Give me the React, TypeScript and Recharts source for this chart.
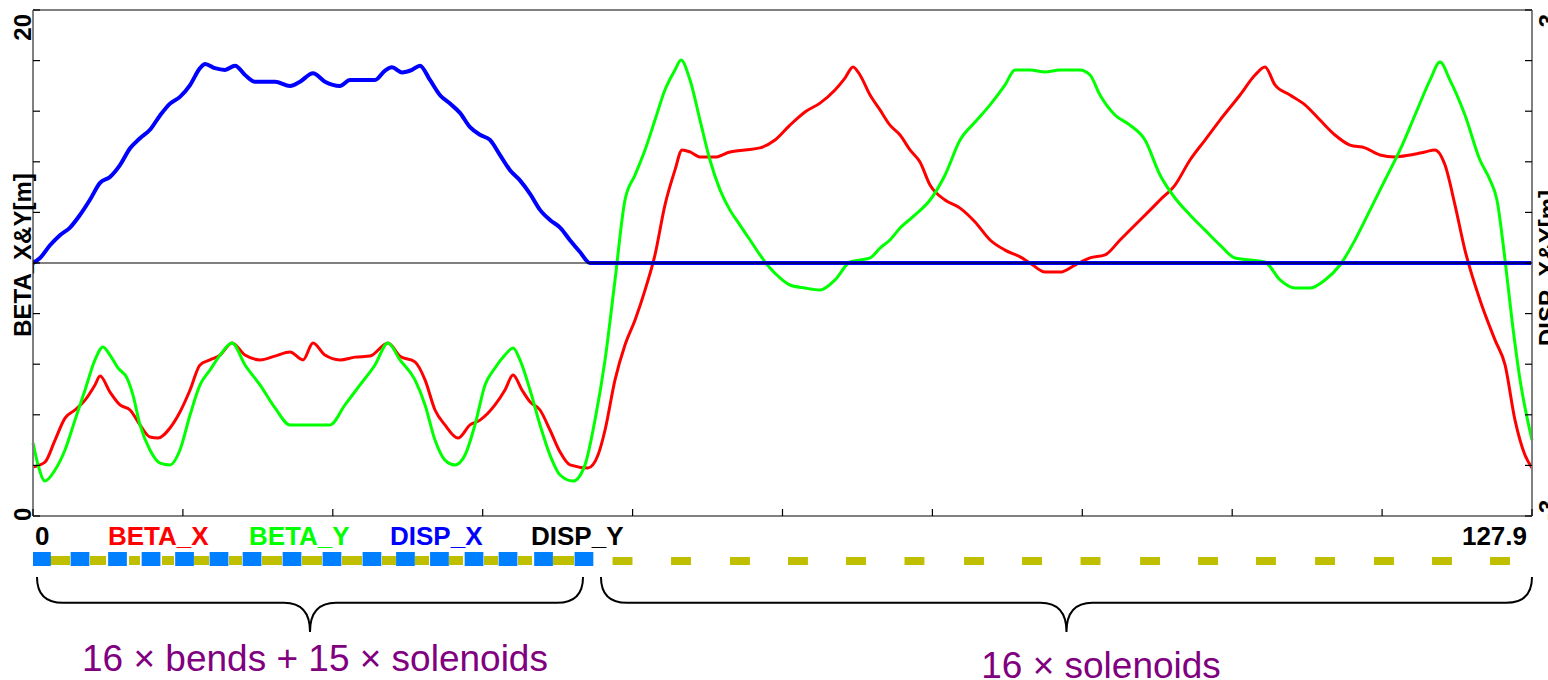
import {
  ComposedChart,
  Line,
  XAxis,
  YAxis,
  ReferenceLine,
  ReferenceArea,
  ReferenceDot,
} from "recharts";

// s positions along the ring [m]
const S_MAX = 127.9;
const S_TICKS = [0, 12.79, 25.58, 38.37, 51.16, 63.95, 76.74, 89.53, 102.32, 115.11, 127.9];
const BETA_TICKS = [0, 2, 4, 6, 8, 10, 12, 14, 16, 18, 20];
const DISP_TICKS = [-3, -2.4, -1.8, -1.2, -0.6, 0, 0.6, 1.2, 1.8, 2.4, 3];

const BETA_X: [number, number][] = [
  [0, 1.94], [1.02, 2.13], [1.88, 3.0], [2.73, 3.87], [3.58, 4.19], [4.44, 4.58], [5.29, 5.18],
  [5.72, 5.53], [6.57, 4.9], [7.42, 4.39], [8.28, 4.19], [9.13, 3.6], [9.98, 3.12], [10.67, 3.08],
  [11.69, 3.48], [12.54, 4.11], [13.4, 4.98], [14.25, 5.97], [15.1, 6.17], [15.96, 6.36],
  [16.98, 6.84], [18.09, 6.36], [19.37, 6.17], [20.65, 6.32], [21.93, 6.48], [23.04, 6.17],
  [23.89, 6.84], [24.91, 6.36], [26.19, 6.17], [27.47, 6.28], [28.75, 6.32], [30.29, 6.84],
  [31.31, 6.32], [32.59, 6.09], [33.45, 5.38], [34.3, 4.19], [35.15, 3.6], [36.26, 3.08],
  [37.29, 3.6], [38.14, 3.79], [39.42, 4.39], [40.27, 4.98], [40.96, 5.57], [41.72, 4.98],
  [42.41, 4.51], [43.26, 4.19], [44.11, 3.4], [44.97, 2.53], [45.82, 2.02], [47.35, 1.9],
  [48.21, 2.41], [48.81, 3.4], [49.66, 5.38], [50.51, 6.76], [51.37, 7.75], [52.22, 8.93],
  [53.07, 10.32], [53.92, 12.29], [54.78, 13.68], [55.38, 14.47], [56.06, 14.39], [56.91, 14.19],
  [58.19, 14.19], [59.47, 14.39], [60.75, 14.47], [62.03, 14.55], [63.31, 14.86], [64.59, 15.45],
  [65.87, 15.97], [67.15, 16.32], [68.43, 16.84], [69.28, 17.31], [69.97, 17.75], [70.56, 17.43],
  [71.42, 16.64], [72.27, 16.05], [73.12, 15.45], [73.98, 15.06], [74.83, 14.47], [75.68, 13.99],
  [76.54, 13.08], [77.82, 12.49], [79.1, 12.17], [80.38, 11.62], [81.66, 10.91], [82.94, 10.51],
  [84.22, 10.24], [85.07, 10.0], [86.35, 9.64], [87.63, 9.64], [88.91, 9.92], [90.19, 10.2],
  [91.47, 10.32], [92.75, 10.91], [94.03, 11.5], [95.31, 12.09], [96.16, 12.49], [97.44, 13.08],
  [98.72, 14.07], [100.0, 14.86], [101.28, 15.65], [102.99, 16.64], [104.27, 17.43],
  [105.12, 17.75], [105.97, 17.04], [107.25, 16.64], [108.53, 16.25], [109.81, 15.65],
  [111.09, 15.06], [112.37, 14.66], [113.65, 14.55], [114.93, 14.27], [116.21, 14.19],
  [117.49, 14.27], [118.77, 14.39], [119.62, 14.47], [120.48, 13.87], [121.33, 12.29],
  [122.18, 10.51], [123.46, 8.54], [124.74, 6.96], [125.6, 5.97], [126.45, 3.79], [127.3, 2.41],
  [127.9, 1.9],
];

const BETA_Y: [number, number][] = [
  [0, 2.89], [0.43, 2.02], [1.02, 1.38], [1.88, 1.82], [2.73, 2.61], [3.58, 3.79], [4.44, 4.98],
  [5.29, 6.17], [5.97, 6.68], [6.57, 6.36], [7.25, 5.85], [8.02, 5.45], [8.53, 4.78], [9.13, 3.6],
  [9.98, 2.61], [10.84, 2.09], [11.69, 2.02], [12.54, 2.61], [13.4, 3.99], [14.25, 5.18],
  [15.1, 5.77], [15.96, 6.36], [16.98, 6.84], [18.09, 5.97], [19.37, 5.18], [20.65, 4.27],
  [21.93, 3.6], [23.63, 3.6], [25.34, 3.6], [26.62, 4.39], [27.9, 5.18], [29.18, 5.97],
  [30.29, 6.84], [31.31, 6.17], [32.59, 5.38], [33.45, 4.39], [34.3, 3.0], [35.15, 2.21],
  [36.01, 2.02], [36.86, 2.41], [37.71, 3.6], [38.57, 5.18], [39.42, 5.85], [40.27, 6.36],
  [40.96, 6.64], [41.55, 6.17], [42.41, 4.98], [43.26, 3.6], [44.11, 2.41], [44.97, 1.62],
  [46.08, 1.38], [47.1, 2.02], [47.95, 3.79], [48.81, 6.17], [49.66, 9.33], [50.51, 12.49],
  [51.37, 13.48], [52.22, 14.47], [53.07, 15.65], [53.92, 16.84], [54.78, 17.63], [55.29, 18.02],
  [56.06, 17.23], [56.91, 15.65], [57.76, 14.07], [58.62, 12.89], [59.47, 12.09], [60.32, 11.5],
  [61.18, 10.91], [62.03, 10.32], [62.88, 9.8], [63.74, 9.41], [64.59, 9.13], [65.87, 9.01],
  [67.15, 8.93], [68.43, 9.33], [69.71, 10.04], [70.56, 10.12], [71.42, 10.2], [72.27, 10.59],
  [73.12, 10.91], [73.98, 11.38], [75.26, 11.9], [76.54, 12.49], [77.82, 13.48], [79.1, 14.86],
  [80.38, 15.57], [81.66, 16.25], [82.94, 17.04], [83.79, 17.63], [85.07, 17.63], [86.35, 17.55],
  [87.63, 17.63], [89.33, 17.63], [90.19, 17.43], [91.04, 16.64], [92.32, 15.85], [93.6, 15.45],
  [94.88, 14.86], [96.16, 13.48], [97.44, 12.57], [98.72, 11.9], [100.0, 11.3], [101.28, 10.71],
  [102.56, 10.2], [103.84, 10.12], [105.12, 10.04], [106.4, 9.33], [107.68, 9.01], [108.96, 9.01],
  [110.24, 9.33], [111.52, 9.92], [112.8, 10.91], [114.08, 12.09], [115.36, 13.28],
  [116.64, 14.47], [117.92, 15.85], [119.2, 17.23], [120.05, 17.94], [120.9, 17.23],
  [122.18, 15.85], [123.46, 14.07], [124.32, 13.28], [124.91, 12.49], [125.6, 10.12],
  [126.19, 7.75], [126.88, 5.38], [127.9, 3.0],
];

const DISP_X: [number, number][] = [
  [0, 0], [0.6, 0.06], [1.45, 0.21], [2.3, 0.33], [3.16, 0.42], [4.01, 0.57], [4.86, 0.75],
  [5.72, 0.95], [6.57, 1.02], [7.42, 1.16], [8.28, 1.36], [9.13, 1.48], [9.98, 1.58], [10.84, 1.75],
  [11.69, 1.89], [12.54, 1.97], [13.4, 2.11], [14.25, 2.31], [14.68, 2.36], [15.53, 2.31],
  [16.38, 2.29], [17.24, 2.34], [18.09, 2.23], [18.94, 2.15], [19.8, 2.15], [20.65, 2.15],
  [21.93, 2.1], [22.78, 2.15], [23.89, 2.25], [24.91, 2.15], [26.19, 2.1], [27.05, 2.17],
  [28.33, 2.17], [29.18, 2.17], [30.03, 2.28], [30.63, 2.32], [31.48, 2.26], [32.34, 2.29],
  [33.02, 2.34], [33.87, 2.17], [34.73, 1.99], [35.58, 1.89], [36.43, 1.78], [37.29, 1.61],
  [38.14, 1.52], [38.99, 1.46], [39.85, 1.28], [40.7, 1.1], [41.55, 0.98], [42.41, 0.82],
  [43.26, 0.63], [44.11, 0.51], [44.97, 0.42], [45.82, 0.27], [46.67, 0.13], [47.53, 0],
  [127.9, 0],
];

const DISP_Y: [number, number][] = [
  [0, 0], [127.9, 0],
];

const SERIES_NAMES = ["BETA_X", "BETA_Y", "DISP_X", "DISP_Y"];
const SERIES_COLORS = ["#ff0000", "#00ff00", "#0000ff", "#000000"];

// lattice elements (s of centre / extents, m)
const BEND_S = [0.72, 4.01, 7.21, 10.07, 12.93, 15.87, 18.69, 22.1, 25.51, 28.92, 31.78, 34.68, 37.63, 40.53, 43.56, 47.01];
const BEND_LEN = 1.6;
const ARC_SOLENOIDS: [number, number][] = [
  [1.45, 3.16], [4.86, 6.23], [8.19, 9.13], [11.01, 12.03], [13.74, 15.02], [16.72, 17.83],
  [19.54, 21.25], [22.95, 24.66], [26.36, 28.07], [29.78, 30.97], [32.59, 33.79], [35.49, 36.69],
  [38.48, 39.68], [41.38, 42.58], [44.37, 46.16],
];
const STRAIGHT_SOL_S = [50.3, 55.29, 60.32, 65.27, 70.22, 75.21, 80.29, 85.24, 90.23, 95.31, 100.26, 105.2, 110.24, 115.27, 120.22, 125.17];
const STRAIGHT_SOL_LEN = 1.7;

const BRACES: [number, number][] = [[0.34, 46.93], [48.46, 127.9]];
const BRACE_TEXTS: { s: number; text: string }[] = [
  { s: 24.06, text: "16 \u00d7 bends + 15 \u00d7 solenoids" },
  { s: 91.13, text: "16 \u00d7 solenoids" },
];

const toPoints = (pts: [number, number][]) => pts.map(([s, v]) => ({ s, v }));

const FRAME = "#808080";
const AXIS_FONT = "'Liberation Sans Narrow', 'Liberation Sans', Arial, sans-serif";
const BEND_COLOR = "#0080ff";
const SOL_COLOR = "#bfbf00";

function RotText({ x, y, anchor, children, size = 24 }: any) {
  return (
    <text
      x={x}
      y={y}
      transform={`rotate(-90 ${x} ${y})`}
      textAnchor={anchor}
      fontFamily={AXIS_FONT}
      fontWeight="bold"
      fontSize={size}
      fill="#000"
    >
      {children}
    </text>
  );
}

function BetaTick({ x, y, payload }: any) {
  const v = payload.value;
  return (
    <g>
      <line x1={x} y1={y} x2={x + 7} y2={y} stroke="#000" strokeWidth={1.2} />
      {v === 20 && <RotText x={x - 2} y={y + 4} anchor="end">20</RotText>}
      {v === 0 && <RotText x={x - 2} y={y + 5} anchor="start">0</RotText>}
    </g>
  );
}

function DispTick({ x, y, payload }: any) {
  const v = payload.value;
  return (
    <g>
      <line x1={x - 7} y1={y} x2={x} y2={y} stroke="#000" strokeWidth={1.2} />
      {v === 3 && <RotText x={x + 24} y={y + 4} anchor="end">3</RotText>}
      {v === -3 && <RotText x={x + 24} y={y + 5} anchor="start">-3</RotText>}
    </g>
  );
}

function STick({ x, y, payload }: any) {
  const v = payload.value;
  return (
    <g>
      <line x1={x} y1={y} x2={x} y2={y - 7} stroke="#000" strokeWidth={1.2} />
      {v === 0 && (
        <text x={x + 2} y={y + 29} fontFamily={AXIS_FONT} fontWeight="bold" fontSize={26}>0</text>
      )}
      {v === S_MAX && (
        <text x={x - 5} y={y + 29} textAnchor="end" fontFamily={AXIS_FONT} fontWeight="bold" fontSize={26}>
          {v}
        </text>
      )}
    </g>
  );
}

// series names are printed in the bottom label row, as in the original plot
function SeriesNames({ viewBox }: any) {
  return (
    <g>
      {SERIES_NAMES.map((name, i) => (
        <text
          key={name}
          x={viewBox.x + 75 + i * 141}
          y={viewBox.y + 29}
          fill={SERIES_COLORS[i]}
          fontFamily={AXIS_FONT}
          fontWeight="bold"
          fontSize={26}
        >
          {name}
        </text>
      ))}
    </g>
  );
}

function BetaTitle({ viewBox }: any) {
  return <RotText x={viewBox.x + 31} y={viewBox.y + viewBox.height / 2 - 8} anchor="middle">BETA_X&amp;Y[m]</RotText>;
}

function DispTitle({ viewBox }: any) {
  return <RotText x={viewBox.x + 24} y={viewBox.y + viewBox.height / 2 + 5} anchor="middle">DISP_X&amp;Y[m]</RotText>;
}

function Brace({ x, y, width, height }: any) {
  const r = 26;
  const xm = x + width / 2;
  const yh = y + height * 0.47;
  const yt = y + height;
  const d = `M ${x} ${y} Q ${x} ${yh} ${x + r} ${yh} L ${xm - r} ${yh} Q ${xm} ${yh} ${xm} ${yt} Q ${xm} ${yh} ${xm + r} ${yh} L ${x + width - r} ${yh} Q ${x + width} ${yh} ${x + width} ${y}`;
  return <path d={d} fill="none" stroke="#000" strokeWidth={2} />;
}

function BraceText({ cx, cy, text }: any) {
  return (
    <text x={cx} y={cy} textAnchor="middle" fill="#800080" fontSize={37} fontFamily="'Liberation Sans', Arial, sans-serif">
      {text}
    </text>
  );
}

// anchor points so the element strip has a data domain on both axes
const STRIP_ANCHORS = [{ s: 0, d: 0 }, { s: S_MAX, d: 128 }];

export default function App() {
  return (
    <div style={{ position: "absolute", left: 0, top: 0, width: 1548, height: 680, overflow: "hidden", background: "#fff" }}>
      <ComposedChart width={1548} height={552} margin={{ top: 10, right: 0, bottom: 0, left: 0 }}>
        <XAxis
          dataKey="s"
          type="number"
          domain={[0, S_MAX]}
          ticks={S_TICKS}
          interval={0}
          height={36}
          tickSize={0}
          tickMargin={0}
          tickLine={false}
          axisLine={{ stroke: FRAME, strokeWidth: 2 }}
          tick={<STick />}
          label={<SeriesNames />}
        />
        <YAxis
          yAxisId="beta"
          domain={[0, 20]}
          ticks={BETA_TICKS}
          interval={0}
          width={33}
          tickSize={0}
          tickMargin={0}
          tickLine={false}
          axisLine={{ stroke: FRAME, strokeWidth: 2 }}
          tick={<BetaTick />}
          label={<BetaTitle />}
        />
        <YAxis
          yAxisId="disp"
          orientation="right"
          domain={[-3, 3]}
          ticks={DISP_TICKS}
          interval={0}
          width={16}
          tickSize={0}
          tickMargin={0}
          tickLine={false}
          axisLine={{ stroke: FRAME, strokeWidth: 2 }}
          tick={<DispTick />}
          label={<DispTitle />}
        />
        <ReferenceLine yAxisId="beta" y={20} stroke={FRAME} strokeWidth={2} />
        <Line yAxisId="beta" data={toPoints(BETA_X)} dataKey="v" name="BETA_X" type="monotone" stroke={SERIES_COLORS[0]} strokeWidth={3} dot={false} activeDot={false} isAnimationActive={false} />
        <Line yAxisId="beta" data={toPoints(BETA_Y)} dataKey="v" name="BETA_Y" type="monotone" stroke={SERIES_COLORS[1]} strokeWidth={3} dot={false} activeDot={false} isAnimationActive={false} />
        <Line yAxisId="disp" data={toPoints(DISP_X)} dataKey="v" name="DISP_X" type="monotone" stroke={SERIES_COLORS[2]} strokeWidth={4} dot={false} activeDot={false} isAnimationActive={false} />
        <Line yAxisId="disp" data={toPoints(DISP_Y)} dataKey="v" name="DISP_Y" type="linear" stroke={SERIES_COLORS[3]} strokeWidth={1.2} dot={false} activeDot={false} isAnimationActive={false} />
      </ComposedChart>

      <ComposedChart width={1548} height={128} data={STRIP_ANCHORS} margin={{ top: 0, right: 16, bottom: 0, left: 33 }}>
        <XAxis dataKey="s" type="number" domain={[0, S_MAX]} hide />
        <YAxis dataKey="d" type="number" domain={[0, 128]} reversed hide />
        <Line dataKey="d" stroke="none" dot={false} activeDot={false} isAnimationActive={false} />
        {ARC_SOLENOIDS.map(([a, b], i) => (
          <ReferenceArea key={`as${i}`} x1={a} x2={b} y1={4} y2={13} fill={SOL_COLOR} fillOpacity={1} stroke="none" />
        ))}
        {STRAIGHT_SOL_S.map((c, i) => (
          <ReferenceArea key={`ss${i}`} x1={c - STRAIGHT_SOL_LEN / 2} x2={c + STRAIGHT_SOL_LEN / 2} y1={5} y2={13} fill={SOL_COLOR} fillOpacity={1} stroke="none" />
        ))}
        {BEND_S.map((c, i) => (
          <ReferenceArea key={`b${i}`} x1={Math.max(0, c - BEND_LEN / 2)} x2={c + BEND_LEN / 2} y1={0} y2={14} fill={BEND_COLOR} fillOpacity={1} stroke="none" />
        ))}
        {BRACES.map(([a, b], i) => (
          <ReferenceArea key={`br${i}`} x1={a} x2={b} y1={25} y2={80} shape={<Brace />} />
        ))}
        {BRACE_TEXTS.map((t, i) => (
          <ReferenceDot key={`t${i}`} x={t.s} y={i === 0 ? 119 : 126} r={0} shape={<BraceText text={t.text} />} />
        ))}
      </ComposedChart>
    </div>
  );
}
